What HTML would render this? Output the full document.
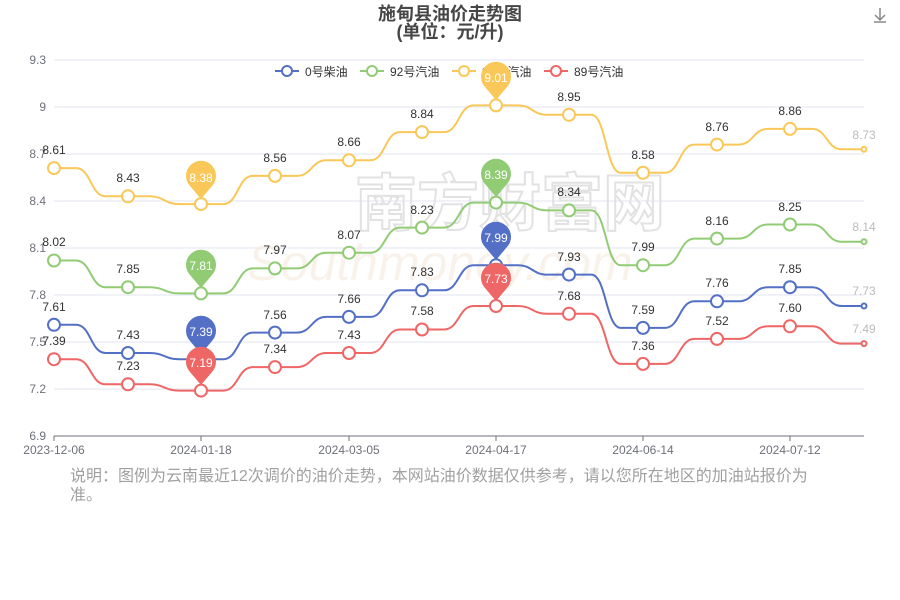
<!DOCTYPE html>
<html><head><meta charset="utf-8"><style>
body{margin:0;background:#fff;width:900px;height:600px;overflow:hidden;font-family:"Liberation Sans","Noto Sans CJK SC",sans-serif}
.d{position:absolute;left:70px;top:467px;width:745px;font-size:16px;line-height:19px;color:#a0a0a0}
</style></head><body>
<svg width="900" height="600" style="position:absolute;left:0;top:0" font-family="Liberation Sans, Noto Sans CJK SC, sans-serif">
<text x="450" y="20" text-anchor="middle" font-size="18" font-weight="bold" fill="#464646">施甸县油价走势图</text>
<text x="450" y="38" text-anchor="middle" font-size="18" font-weight="bold" fill="#464646">(单位：元/升)</text>
<g stroke="#888" fill="none" stroke-width="1.5"><path d="M880 8v12M875 15l5 5 5-5M874 22h12"/></g>
<g stroke="#e0e6f1" stroke-width="1">
<line x1="54" y1="60" x2="864" y2="60"/><line x1="54" y1="107" x2="864" y2="107"/><line x1="54" y1="154" x2="864" y2="154"/><line x1="54" y1="201" x2="864" y2="201"/><line x1="54" y1="248" x2="864" y2="248"/><line x1="54" y1="295" x2="864" y2="295"/><line x1="54" y1="342" x2="864" y2="342"/><line x1="54" y1="389" x2="864" y2="389"/>
</g>
<line x1="54" y1="436" x2="864" y2="436" stroke="#6e7079"/>
<g stroke="#6e7079"><line x1="54" y1="436" x2="54" y2="441"/><line x1="201" y1="436" x2="201" y2="441"/><line x1="349" y1="436" x2="349" y2="441"/><line x1="496" y1="436" x2="496" y2="441"/><line x1="643" y1="436" x2="643" y2="441"/><line x1="790" y1="436" x2="790" y2="441"/></g>
<g font-size="12" fill="#6e7079" text-anchor="end">
<text x="46" y="64">9.3</text><text x="46" y="111">9</text><text x="46" y="158">8.7</text><text x="46" y="205">8.4</text><text x="46" y="252">8.1</text><text x="46" y="299">7.8</text><text x="46" y="346">7.5</text><text x="46" y="393">7.2</text><text x="46" y="440">6.9</text>
</g>
<g font-size="12" fill="#6e7079" text-anchor="middle">
<text x="54" y="454">2023-12-06</text><text x="201" y="454">2024-01-18</text><text x="349" y="454">2024-03-05</text><text x="496" y="454">2024-04-17</text><text x="643" y="454">2024-06-14</text><text x="790" y="454">2024-07-12</text>
</g>
<text x="510" y="225" text-anchor="middle" font-size="62" font-weight="bold" fill="none" stroke="#e2e2e2" stroke-width="2">南方财富网</text>
<text x="440" y="280" text-anchor="middle" font-size="50" font-style="italic" fill="#f6ebde" opacity="0.6">Southmoney.com</text>
<g stroke-width="2" fill="#fff">
<line x1="275" y1="71" x2="299" y2="71" stroke="#5470c6"/><circle cx="287" cy="71" r="5" stroke="#5470c6"/>
<line x1="360" y1="71" x2="384" y2="71" stroke="#91cc75"/><circle cx="372" cy="71" r="5" stroke="#91cc75"/>
<line x1="452" y1="71" x2="476" y2="71" stroke="#fac858"/><circle cx="464" cy="71" r="5" stroke="#fac858"/>
<line x1="544" y1="71" x2="568" y2="71" stroke="#ee6666"/><circle cx="556" cy="71" r="5" stroke="#ee6666"/>
</g>
<g font-size="12" fill="#333"><text x="305" y="76">0号柴油</text><text x="390" y="76">92号汽油</text><text x="482" y="76">95号汽油</text><text x="574" y="76">89号汽油</text></g>
<g fill="none" stroke-width="2">
<path stroke="#fac858" d="M54 168.1h22c15 0 14.6 28.2 29.6 28.2h22h22c15 0 14.6 7.8 29.6 7.8h22h22c15 0 14.6 -28.2 29.6 -28.2h22h22c15 0 14.6 -15.6 29.6 -15.6h22h22c15 0 14.6 -28.2 29.6 -28.2h22h22c15 0 14.6 -26.7 29.6 -26.7h22h22c15 0 14.6 9.4 29.6 9.4h22h22c15 0 14.6 58 29.6 58h22h22c15 0 14.6 -28.2 29.6 -28.2h22h22c15 0 14.6 -15.7 29.6 -15.7h22h22c15 0 14.6 20.4 29.6 20.4h22"/>
<path stroke="#91cc75" d="M54 260.5h22c15 0 14.6 26.7 29.6 26.7h22h22c15 0 14.6 6.2 29.6 6.2h22h22c15 0 14.6 -25 29.6 -25h22h22c15 0 14.6 -15.7 29.6 -15.7h22h22c15 0 14.6 -25.1 29.6 -25.1h22h22c15 0 14.6 -25 29.6 -25h22h22c15 0 14.6 7.8 29.6 7.8h22h22c15 0 14.6 54.8 29.6 54.8h22h22c15 0 14.6 -26.6 29.6 -26.6h22h22c15 0 14.6 -14.1 29.6 -14.1h22h22c15 0 14.6 17.2 29.6 17.2h22"/>
<path stroke="#5470c6" d="M54 324.8h22c15 0 14.6 28.2 29.6 28.2h22h22c15 0 14.6 6.2 29.6 6.2h22h22c15 0 14.6 -26.6 29.6 -26.6h22h22c15 0 14.6 -15.7 29.6 -15.7h22h22c15 0 14.6 -26.6 29.6 -26.6h22h22c15 0 14.6 -25.1 29.6 -25.1h22h22c15 0 14.6 9.4 29.6 9.4h22h22c15 0 14.6 53.3 29.6 53.3h22h22c15 0 14.6 -26.6 29.6 -26.6h22h22c15 0 14.6 -14.1 29.6 -14.1h22h22c15 0 14.6 18.8 29.6 18.8h22"/>
<path stroke="#ee6666" d="M54 359.2h22c15 0 14.6 25.1 29.6 25.1h22h22c15 0 14.6 6.3 29.6 6.3h22h22c15 0 14.6 -23.5 29.6 -23.5h22h22c15 0 14.6 -14.1 29.6 -14.1h22h22c15 0 14.6 -23.5 29.6 -23.5h22h22c15 0 14.6 -23.5 29.6 -23.5h22h22c15 0 14.6 7.8 29.6 7.8h22h22c15 0 14.6 50.1 29.6 50.1h22h22c15 0 14.6 -25 29.6 -25h22h22c15 0 14.6 -12.6 29.6 -12.6h22h22c15 0 14.6 17.3 29.6 17.3h22"/>
</g>
<g fill="#fff" stroke-width="2">
<g stroke="#fac858"><circle cx="54" cy="168.1" r="6"/><circle cx="128" cy="196.3" r="6"/><circle cx="201" cy="204.1" r="6"/><circle cx="275" cy="175.9" r="6"/><circle cx="349" cy="160.3" r="6"/><circle cx="422" cy="132.1" r="6"/><circle cx="496" cy="105.4" r="6"/><circle cx="569" cy="114.8" r="6"/><circle cx="643" cy="172.8" r="6"/><circle cx="717" cy="144.6" r="6"/><circle cx="790" cy="128.9" r="6"/><circle cx="864" cy="149.3" r="2.5"/></g>
<g stroke="#91cc75"><circle cx="54" cy="260.5" r="6"/><circle cx="128" cy="287.2" r="6"/><circle cx="201" cy="293.4" r="6"/><circle cx="275" cy="268.4" r="6"/><circle cx="349" cy="252.7" r="6"/><circle cx="422" cy="227.6" r="6"/><circle cx="496" cy="202.6" r="6"/><circle cx="569" cy="210.4" r="6"/><circle cx="643" cy="265.2" r="6"/><circle cx="717" cy="238.6" r="6"/><circle cx="790" cy="224.5" r="6"/><circle cx="864" cy="241.7" r="2.5"/></g>
<g stroke="#5470c6"><circle cx="54" cy="324.8" r="6"/><circle cx="128" cy="353" r="6"/><circle cx="201" cy="359.2" r="6"/><circle cx="275" cy="332.6" r="6"/><circle cx="349" cy="316.9" r="6"/><circle cx="422" cy="290.3" r="6"/><circle cx="496" cy="265.2" r="6"/><circle cx="569" cy="274.6" r="6"/><circle cx="643" cy="327.9" r="6"/><circle cx="717" cy="301.3" r="6"/><circle cx="790" cy="287.2" r="6"/><circle cx="864" cy="306" r="2.5"/></g>
<g stroke="#ee6666"><circle cx="54" cy="359.2" r="6"/><circle cx="128" cy="384.3" r="6"/><circle cx="201" cy="390.6" r="6"/><circle cx="275" cy="367.1" r="6"/><circle cx="349" cy="353" r="6"/><circle cx="422" cy="329.5" r="6"/><circle cx="496" cy="306" r="6"/><circle cx="569" cy="313.8" r="6"/><circle cx="643" cy="363.9" r="6"/><circle cx="717" cy="338.9" r="6"/><circle cx="790" cy="326.3" r="6"/><circle cx="864" cy="343.6" r="2.5"/></g>
</g>
<g font-size="12" fill="#333" text-anchor="middle">
<text x="54" y="154">8.61</text><text x="128" y="182">8.43</text><text x="275" y="162">8.56</text><text x="349" y="146">8.66</text><text x="422" y="118">8.84</text><text x="569" y="101">8.95</text><text x="643" y="159">8.58</text><text x="717" y="131">8.76</text><text x="790" y="115">8.86</text><text x="864" y="139" fill="#bbb">8.73</text>
<text x="54" y="246">8.02</text><text x="128" y="273">7.85</text><text x="275" y="254">7.97</text><text x="349" y="239">8.07</text><text x="422" y="214">8.23</text><text x="569" y="196">8.34</text><text x="643" y="251">7.99</text><text x="717" y="225">8.16</text><text x="790" y="211">8.25</text><text x="864" y="231" fill="#bbb">8.14</text>
<text x="54" y="311">7.61</text><text x="128" y="339">7.43</text><text x="275" y="319">7.56</text><text x="349" y="303">7.66</text><text x="422" y="276">7.83</text><text x="569" y="261">7.93</text><text x="643" y="314">7.59</text><text x="717" y="287">7.76</text><text x="790" y="273">7.85</text><text x="864" y="295" fill="#bbb">7.73</text>
<text x="54" y="345">7.39</text><text x="128" y="370">7.23</text><text x="275" y="353">7.34</text><text x="349" y="339">7.43</text><text x="422" y="315">7.58</text><text x="569" y="300">7.68</text><text x="643" y="350">7.36</text><text x="717" y="325">7.52</text><text x="790" y="312">7.60</text><text x="864" y="333" fill="#bbb">7.49</text>
</g>
<g>
<path fill="#fac858" d="M496 100 L485 87 A15 15 0 1 1 507 87 Z"/><text x="496" y="82" font-size="12" fill="#fff" text-anchor="middle">9.01</text>
<path fill="#fac858" d="M201 199 L190 186 A15 15 0 1 1 212 186 Z"/><text x="201" y="182" font-size="12" fill="#fff" text-anchor="middle">8.38</text>
<path fill="#91cc75" d="M496 197 L485 184 A15 15 0 1 1 507 184 Z"/><text x="496" y="179" font-size="12" fill="#fff" text-anchor="middle">8.39</text>
<path fill="#91cc75" d="M201 288 L190 275 A15 15 0 1 1 212 275 Z"/><text x="201" y="270" font-size="12" fill="#fff" text-anchor="middle">7.81</text>
<path fill="#5470c6" d="M496 260 L485 247 A15 15 0 1 1 507 247 Z"/><text x="496" y="242" font-size="12" fill="#fff" text-anchor="middle">7.99</text>
<path fill="#5470c6" d="M201 354 L190 341 A15 15 0 1 1 212 341 Z"/><text x="201" y="336" font-size="12" fill="#fff" text-anchor="middle">7.39</text>
<path fill="#ee6666" d="M496 301 L485 288 A15 15 0 1 1 507 288 Z"/><text x="496" y="283" font-size="12" fill="#fff" text-anchor="middle">7.73</text>
<path fill="#ee6666" d="M201 385 L190 372 A15 15 0 1 1 212 372 Z"/><text x="201" y="367" font-size="12" fill="#fff" text-anchor="middle">7.19</text>
</g>
</svg>
<div class="d">说明：图例为云南最近12次调价的油价走势，本网站油价数据仅供参考，请以您所在地区的加油站报价为准。</div>
</body></html>
